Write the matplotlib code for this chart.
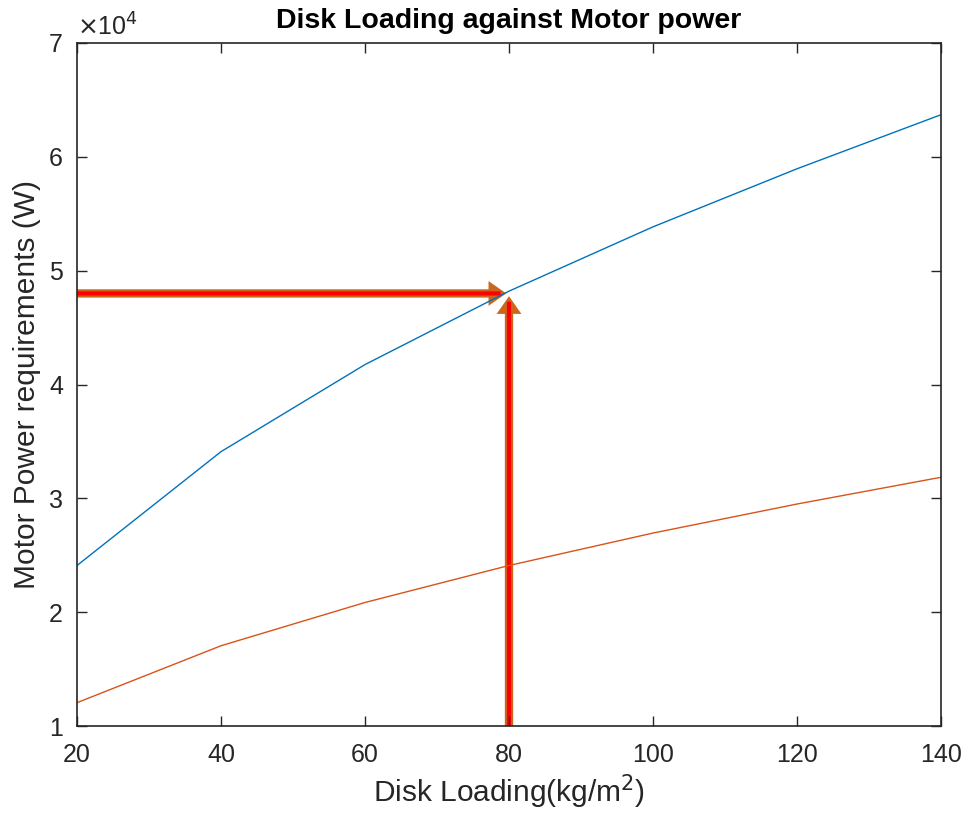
import matplotlib
matplotlib.use("Agg")
import matplotlib.pyplot as plt
from matplotlib.patches import FancyArrowPatch

disk_loading = [20, 40, 60, 80, 100, 120, 140]
power_a = [24100, 34100, 41750, 48200, 53850, 58950, 63700]
power_b = [12050, 17050, 20850, 24100, 26950, 29500, 31850]
target_x = 80
target_y = 48000

plt.rcParams['font.family'] = ['Liberation Sans', 'DejaVu Sans']

fig = plt.figure(figsize=(9.67, 8.18), dpi=100)
ax = fig.add_axes([77/967, 1-726/818, (941-77)/967, (726-43)/818])

ax.plot(disk_loading, power_a, color='#0072BD', lw=1)
ax.plot(disk_loading, power_b, color='#D95319', lw=1)

ax.set_xlim(20, 140)
ax.set_ylim(10000, 70000)
ax.set_xticks([20, 40, 60, 80, 100, 120, 140])
ax.set_yticks([10000, 20000, 30000, 40000, 50000, 60000, 70000])
ax.set_yticklabels(['1', '2', '3', '4', '5', '6', '7'])
ax.tick_params(direction='in', length=7, width=1, labelsize=18, colors='#262626',
               top=True, right=True)
ax.tick_params(axis='x', pad=12)
ax.tick_params(axis='y', pad=10)
for s in ax.spines.values():
    s.set_color('#262626')
    s.set_linewidth(1.2)

ax.text(0.0, 1.004, r'$\times$10$^4$', transform=ax.transAxes, fontsize=18,
        color='#262626', ha='left', va='bottom')

ax.set_title('Disk Loading against Motor power', fontsize=20.5, fontweight='bold', pad=11)
ax.set_xlabel('Disk Loading(kg/m$^2$)', fontsize=21.5, color='#262626', labelpad=4)
ax.set_ylabel('Motor Power requirements (W)', fontsize=21.5, color='#262626', labelpad=6)

for (xs, ys), (xe, ye) in [((20, target_y), (target_x, target_y)),
                            ((target_x, 10000), (target_x, target_y))]:
    outer = FancyArrowPatch((xs, ys), (xe, ye),
                            arrowstyle='-|>,head_length=0.5,head_width=0.35',
                            mutation_scale=9, color='#CD661D', lw=6,
                            shrinkA=0, shrinkB=-2, capstyle='butt', joinstyle='miter',
                            clip_on=False)
    ax.add_patch(outer)
    inner = FancyArrowPatch((xs, ys), (xe, ye), arrowstyle='-',
                            color='#FF0000', lw=3, shrinkA=0, shrinkB=6,
                            capstyle='butt', clip_on=False)
    ax.add_patch(inner)

fig.savefig('out.png', dpi=100)
